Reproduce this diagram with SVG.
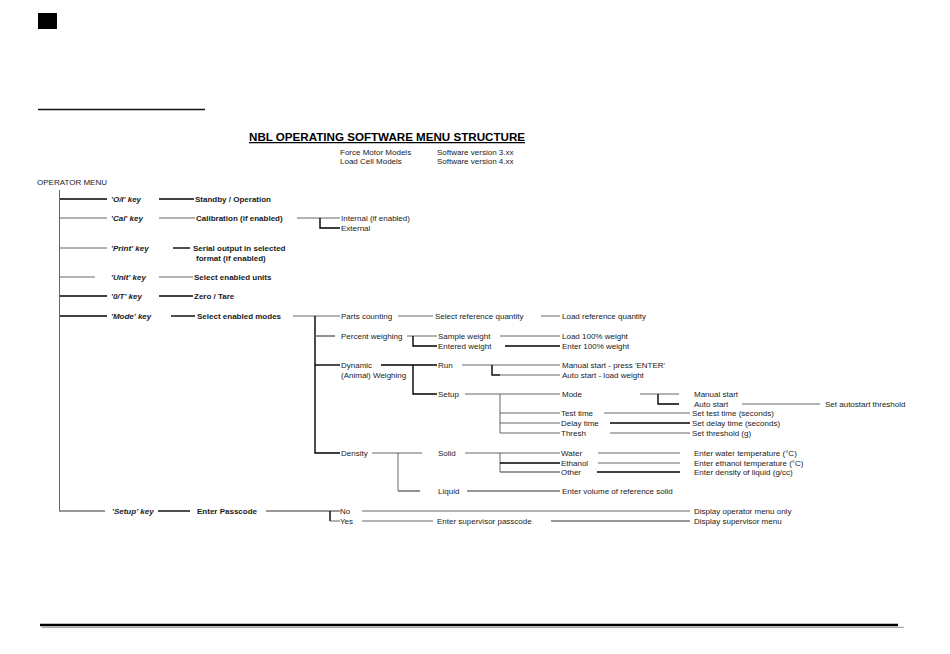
<svg xmlns="http://www.w3.org/2000/svg" width="950" height="654" viewBox="0 0 950 654">
<style>
text{font-family:"Liberation Sans",Arial,sans-serif;font-size:8px;fill:#1a1a1a}
.t{font-size:11.5px;font-weight:bold;fill:#000}
.b{font-weight:bold}
.k{font-weight:bold;font-style:italic}
.c line,.c path{fill:none}
.n{stroke:#555;stroke-width:0.9}
.h{stroke:#000;stroke-width:1.4}
.g{stroke:#777;stroke-width:1.6}
</style>
<rect id="marker-box" x="38" y="13" width="19" height="16" fill="#000"/>
<line x1="38" y1="109.5" x2="205" y2="109.5" stroke="#111" stroke-width="1.5"/>
<line x1="40" y1="625" x2="898" y2="625" stroke="#000" stroke-width="2.6"/>
<line x1="42" y1="627.3" x2="904" y2="627.3" stroke="#aaa" stroke-width="1.2"/>

<g id="title">
<text class="t" x="249" y="140.5" textLength="276" lengthAdjust="spacingAndGlyphs">NBL OPERATING SOFTWARE MENU STRUCTURE</text>
<line x1="249" y1="142.6" x2="525" y2="142.6" stroke="#000" stroke-width="1.2"/>
<text x="340" y="155">Force Motor Models</text>
<text x="340" y="164">Load Cell Models</text>
<text x="437" y="155">Software version 3.xx</text>
<text x="437" y="164">Software version 4.xx</text>
</g>

<g id="connectors" class="c">
<line class="n" x1="59.5" y1="190" x2="59.5" y2="511"/>
<!-- O/I -->
<line class="h" x1="60" y1="199" x2="107" y2="199"/>
<line class="h" x1="159" y1="199" x2="194" y2="199"/>
<!-- Cal -->
<line class="n" x1="60" y1="218" x2="107" y2="218"/>
<line class="n" x1="159" y1="218" x2="195" y2="218"/>
<line class="n" x1="297" y1="218" x2="340" y2="218"/>
<path class="h" d="M320 218V228H340"/>
<!-- Print -->
<line class="n" x1="60" y1="248" x2="107" y2="248"/>
<line class="h" x1="173" y1="248" x2="190" y2="248"/>
<!-- Unit -->
<line class="n" x1="60" y1="277" x2="95" y2="277"/>
<line class="n" x1="159" y1="277" x2="193" y2="277"/>
<!-- 0/T -->
<line class="h" x1="60" y1="296" x2="107" y2="296"/>
<line class="h" x1="159" y1="296" x2="193" y2="296"/>
<!-- Mode -->
<line class="h" x1="60" y1="316" x2="107" y2="316"/>
<line class="h" x1="171" y1="316" x2="195" y2="316"/>
<line class="n" x1="293" y1="316" x2="340" y2="316"/>
<path class="h" d="M315 316V453H340"/>
<!-- Parts -->
<line class="n" x1="398" y1="316" x2="433" y2="316"/>
<line class="n" x1="541" y1="316" x2="560" y2="316"/>
<!-- Percent -->
<line class="g" x1="315" y1="336" x2="335" y2="336"/>
<line class="n" x1="407" y1="336" x2="437" y2="336"/>
<path class="h" d="M413 336V346H437"/>
<line class="n" x1="500" y1="336" x2="560" y2="336"/>
<line class="h" x1="505" y1="346" x2="560" y2="346"/>
<!-- Dynamic -->
<line class="h" x1="315" y1="365" x2="340" y2="365"/>
<line class="h" x1="381" y1="365" x2="437" y2="365"/>
<path class="h" d="M413 365V394H437"/>
<line class="n" x1="462" y1="365" x2="560" y2="365"/>
<path class="h" d="M492 365V375H500"/>
<line class="n" x1="492" y1="375" x2="560" y2="375"/>
<!-- Setup -->
<line class="n" x1="465" y1="394" x2="560" y2="394"/>
<path class="n" d="M500 394V433"/>
<line class="n" x1="500" y1="413" x2="560" y2="413"/>
<line class="n" x1="500" y1="423" x2="560" y2="423"/>
<line class="n" x1="500" y1="433" x2="560" y2="433"/>
<line class="n" x1="640" y1="394" x2="679" y2="394"/>
<path class="h" d="M658 394V404H679"/>
<line class="n" x1="742" y1="404" x2="820" y2="404"/>
<line class="n" x1="604" y1="413" x2="690" y2="413"/>
<line class="h" x1="610" y1="423" x2="690" y2="423"/>
<line class="n" x1="610" y1="433" x2="690" y2="433"/>
<!-- Density -->
<line class="n" x1="372" y1="453" x2="422" y2="453"/>
<path class="n" d="M398 453V491"/>
<line class="g" x1="398" y1="491" x2="420" y2="491"/>
<line class="n" x1="465" y1="453" x2="560" y2="453"/>
<path class="n" d="M500 453V472"/>
<line class="h" x1="500" y1="463" x2="560" y2="463"/>
<line class="g" x1="500" y1="472" x2="560" y2="472"/>
<line class="n" x1="598" y1="453" x2="680" y2="453"/>
<line class="n" x1="598" y1="463" x2="680" y2="463"/>
<line class="h" x1="597" y1="472" x2="680" y2="472"/>
<line class="g" x1="467" y1="491" x2="560" y2="491"/>
<!-- Setup key -->
<line class="g" x1="59" y1="511" x2="105" y2="511"/>
<line class="h" x1="158" y1="511" x2="190" y2="511"/>
<line class="g" x1="266" y1="511" x2="340" y2="511"/>
<path class="h" d="M330 511V521"/>
<line class="n" x1="330" y1="521" x2="340" y2="521"/>
<line class="n" x1="362" y1="511" x2="690" y2="511"/>
<line class="n" x1="362" y1="521" x2="433" y2="521"/>
<line class="g" x1="551" y1="521" x2="690" y2="521"/>
</g>

<g id="operator-menu"><text x="37" y="185">OPERATOR MENU</text></g>
<g id="oi-key"><text class="k" x="111" y="202">'O/I' key</text></g>
<g id="standby"><text class="b" x="195" y="202">Standby / Operation</text></g>
<g id="cal-key"><text class="k" x="111" y="221">'Cal' key</text></g>
<g id="calibration"><text class="b" x="196" y="221">Calibration (if enabled)</text></g>
<g id="internal"><text x="341" y="221">Internal (if enabled)</text></g>
<g id="external"><text x="341" y="231">External</text></g>
<g id="print-key"><text class="k" x="111" y="251">'Print' key</text></g>
<g id="serial"><text class="b" x="193" y="251">Serial output in selected</text><text class="b" x="196" y="261">format (if enabled)</text></g>
<g id="unit-key"><text class="k" x="111" y="280">'Unit' key</text></g>
<g id="units"><text class="b" x="194" y="280">Select enabled units</text></g>
<g id="zt-key"><text class="k" x="111" y="299">'0/T' key</text></g>
<g id="zero-tare"><text class="b" x="194" y="299">Zero / Tare</text></g>
<g id="mode-key"><text class="k" x="111" y="319">'Mode' key</text></g>
<g id="modes"><text class="b" x="197" y="319">Select enabled modes</text></g>
<g id="parts"><text x="341" y="319">Parts counting</text></g>
<g id="sel-ref"><text x="435" y="319">Select reference quantity</text></g>
<g id="load-ref"><text x="562" y="319">Load reference quantity</text></g>
<g id="percent"><text x="341" y="339">Percent weighing</text></g>
<g id="sample"><text x="438" y="339">Sample weight</text></g>
<g id="entered"><text x="438" y="349">Entered weight</text></g>
<g id="load100"><text x="562" y="339">Load 100% weight</text></g>
<g id="enter100"><text x="562" y="349">Enter 100% weight</text></g>
<g id="dynamic"><text x="341" y="368">Dynamic</text><text x="341" y="378">(Animal) Weighing</text></g>
<g id="run"><text x="438" y="368">Run</text></g>
<g id="setup"><text x="438" y="397">Setup</text></g>
<g id="manual-enter"><text x="562" y="368">Manual start - press 'ENTER'</text></g>
<g id="auto-load"><text x="562" y="378">Auto start - load weight</text></g>
<g id="mode"><text x="562" y="397">Mode</text></g>
<g id="test-time"><text x="561" y="416">Test time</text></g>
<g id="delay-time"><text x="561" y="426">Delay time</text></g>
<g id="thresh"><text x="561" y="436">Thresh</text></g>
<g id="manual-start"><text x="694" y="397">Manual start</text></g>
<g id="auto-start"><text x="694" y="407">Auto start</text></g>
<g id="autostart-thr"><text x="825" y="407">Set autostart threshold</text></g>
<g id="set-test"><text x="692" y="416">Set test time (seconds)</text></g>
<g id="set-delay"><text x="692" y="426">Set delay time (seconds)</text></g>
<g id="set-thr"><text x="692" y="436">Set threshold (g)</text></g>
<g id="density"><text x="341" y="456">Density</text></g>
<g id="solid"><text x="438" y="456">Solid</text></g>
<g id="water"><text x="561" y="456">Water</text></g>
<g id="ethanol"><text x="561" y="466">Ethanol</text></g>
<g id="other"><text x="561" y="475">Other</text></g>
<g id="water-t"><text x="694" y="456">Enter water temperature (°C)</text></g>
<g id="ethanol-t"><text x="694" y="466">Enter ethanol temperature (°C)</text></g>
<g id="density-l"><text x="694" y="475">Enter density of liquid (g/cc)</text></g>
<g id="liquid"><text x="438" y="494">Liquid</text></g>
<g id="vol-ref"><text x="562" y="494">Enter volume of reference solid</text></g>
<g id="setup-key"><text class="k" x="112" y="514">'Setup' key</text></g>
<g id="passcode"><text class="b" x="197" y="514">Enter Passcode</text></g>
<g id="no"><text x="340" y="514">No</text></g>
<g id="yes"><text x="340" y="524">Yes</text></g>
<g id="sup-pass"><text x="437" y="524">Enter supervisor passcode</text></g>
<g id="disp-op"><text x="694" y="514">Display operator menu only</text></g>
<g id="disp-sup"><text x="694" y="524">Display supervisor menu</text></g>
</svg>
